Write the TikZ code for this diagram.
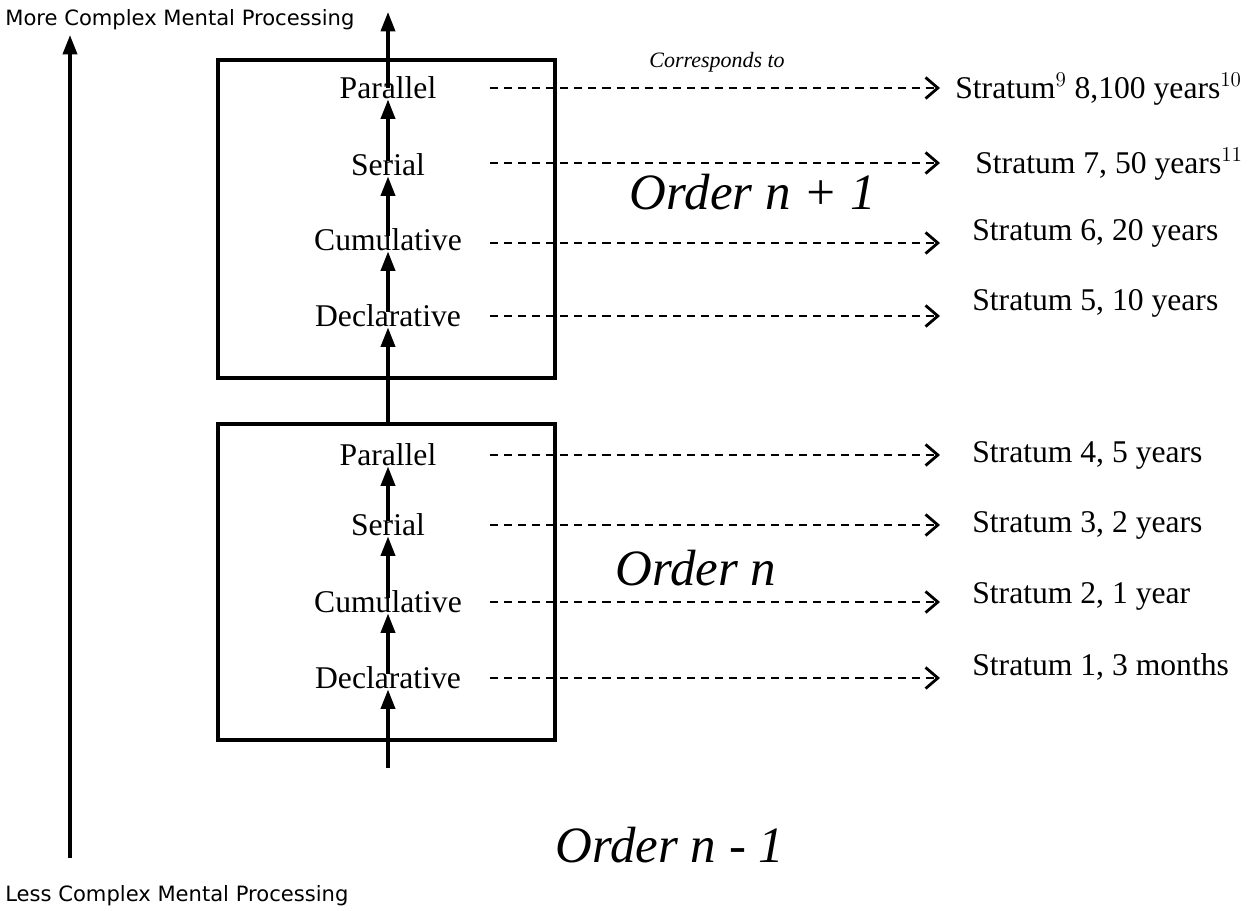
\documentclass[tikz,border=0pt]{standalone}
\usepackage{fontspec}
\setmainfont{Liberation Serif}
\newfontfamily\sidefont{DejaVu Sans}
\usetikzlibrary{arrows.meta}
\begin{document}
\begin{tikzpicture}[x=0.02cm,y=-0.02cm,
	every node/.style={inner sep=0,font=\fontsize{18}{20}\selectfont},
	box/.style={draw,line width=1.9pt},
	up/.style={line width=1.9pt,-{Triangle[length=11pt,width=8pt]}},
	corr/.style={line width=1.5pt,dash pattern=on 4.6pt off 3.4pt,-{Straight Barb[length=7pt,width=12pt,line width=1.6pt]}},
	order/.style={font=\itshape\fontsize{29}{32}\selectfont},
	side/.style={font=\sidefont\fontsize{12}{14}\selectfont,anchor=west}]
\useasboundingbox (0,0) rectangle (1250,910);
\node[side] (more) at (5,20) {More Complex Mental Processing};
\node[side] (less) at (5,896) {Less Complex Mental Processing};
\coordinate (lo) at (70,858);
\coordinate (hi) at (70,35);
\draw[up] (lo) -- (hi);
\draw[box] (218,60) rectangle (555,378);
\draw[box] (218,424) rectangle (555,740);
\node (par1) at (388,88) {Parallel};
\node (ser1) at (388,165) {Serial};
\node (cum1) at (388,240) {Cumulative};
\node (dec1) at (388,316) {Declarative};
\node (par2) at (388,455) {Parallel};
\node (ser2) at (388,525) {Serial};
\node (cum2) at (388,602) {Cumulative};
\node (dec2) at (388,678) {Declarative};
\coordinate (out) at (388,12);
\coordinate (in1) at (388,424);
\coordinate (in2) at (388,768);
\draw[up] (par1.center) -- (out);
\draw[up,shorten <=-4pt] (ser1.north) -- (par1.south);
\draw[up,shorten <=-4pt] (cum1.north) -- (ser1.south);
\draw[up,shorten <=-4pt] (dec1.north) -- (cum1.south);
\draw[up] (in1) -- (dec1.south);
\draw[up,shorten <=-4pt] (ser2.north) -- (par2.south);
\draw[up,shorten <=-4pt] (cum2.north) -- (ser2.south);
\draw[up,shorten <=-4pt] (dec2.north) -- (cum2.south);
\draw[up] (in2) -- (dec2.south);
\foreach \y/\n in {88/1,163/2,243/3,316/4,455/5,525/6,602/7,678/8}{
	\coordinate (a\n) at (490,\y);
	\coordinate (b\n) at (940,\y);
	\draw[corr] (a\n) -- (b\n);
}
\node[font=\itshape\fontsize{12.5}{14}\selectfont] (corr) at (717,62) {Corresponds to};
\node[anchor=base west] (s9) at (955,98) {Stratum$^{\fontsize{11}{12}\selectfont 9}$ 8,100 years$^{\fontsize{11}{12}\selectfont 10}$};
\node[anchor=base west] (s7) at (975,173) {Stratum 7, 50 years$^{\fontsize{11}{12}\selectfont 11}$};
\node[anchor=base west] (s6) at (972,240) {Stratum 6, 20 years};
\node[anchor=base west] (s5) at (972,310) {Stratum 5, 10 years};
\node[anchor=base west] (s4) at (972,462) {Stratum 4, 5 years};
\node[anchor=base west] (s3) at (972,532) {Stratum 3, 2 years};
\node[anchor=base west] (s2) at (972,603) {Stratum 2, 1 year};
\node[anchor=base west] (s1) at (972,675) {Stratum 1, 3 months};
\node[order] (ordA) at (753,192) {Order n + 1};
\node[order] (ordB) at (696,568) {Order n};
\node[order] (ordC) at (670,845) {Order n - 1};
\end{tikzpicture}
\end{document}
